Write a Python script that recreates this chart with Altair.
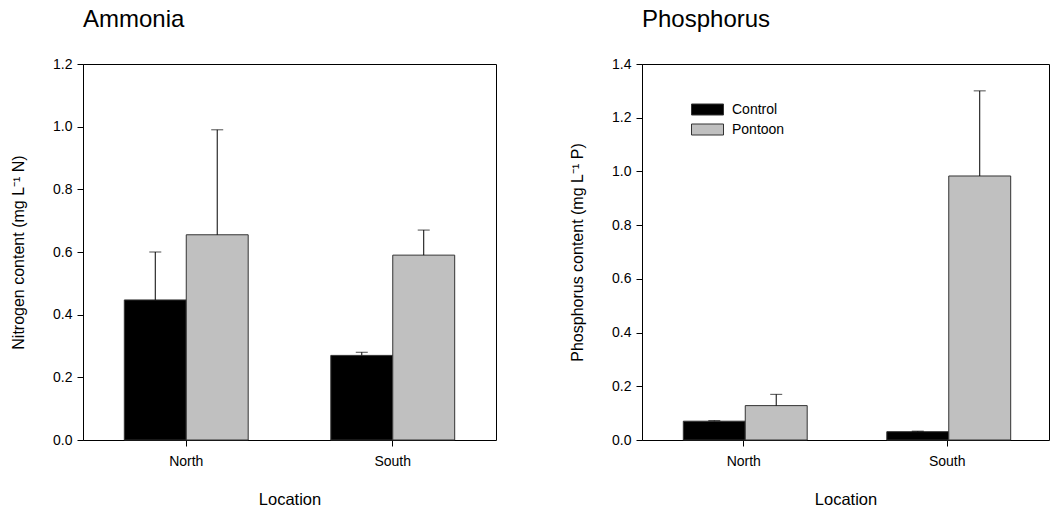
import altair as alt
import pandas as pd

locations = ["North", "South"]
treatments = ["Control", "Pontoon"]
bar_colors = ["#000000", "#c0c0c0"]

# Ammonia (mg L-1 N): means and upper standard errors
ammonia_control = [0.447, 0.270]
ammonia_control_se = [0.153, 0.010]
ammonia_pontoon = [0.655, 0.590]
ammonia_pontoon_se = [0.335, 0.080]

# Phosphorus (mg L-1 P)
phos_control = [0.070, 0.031]
phos_control_se = [0.002, 0.002]
phos_pontoon = [0.128, 0.983]
phos_pontoon_se = [0.042, 0.317]

ammonia_ticks = [0.0, 0.2, 0.4, 0.6, 0.8, 1.0, 1.2]
phos_ticks = [0.0, 0.2, 0.4, 0.6, 0.8, 1.0, 1.2, 1.4]

FONT = "Liberation Sans"


def make_frame(c_mean, c_se, p_mean, p_se):
    rows = []
    for i, loc in enumerate(locations):
        rows.append(dict(Location=loc, Treatment="Control", mean=c_mean[i],
                         upper=c_mean[i] + c_se[i]))
        rows.append(dict(Location=loc, Treatment="Pontoon", mean=p_mean[i],
                         upper=p_mean[i] + p_se[i]))
    return pd.DataFrame(rows)


def panel(df, title, ytitle, ticks, width, show_legend):
    x = alt.X("Location:N", sort=locations, title="Location",
              scale=alt.Scale(paddingInner=0, paddingOuter=0),
              axis=alt.Axis(labelAngle=0, tickSize=6, labelPadding=8,
                            domain=False, titlePadding=23, labelFontSize=14,
                            titleFontSize=16.5))
    xo = alt.XOffset("Treatment:N", sort=treatments,
                     scale=alt.Scale(paddingInner=0, paddingOuter=0.667))
    y_scale = alt.Scale(domain=[ticks[0], ticks[-1]], nice=False)
    y_axis = alt.Axis(values=ticks, format=".1f", tickSize=6, labelPadding=5,
                      labelFontSize=14, titleFontSize=16, titlePadding=26)
    if show_legend:
        legend = alt.Legend(title=None, orient="none", legendX=55, legendY=35,
                            symbolType="M-1.6,-0.55H1.6V0.55H-1.6Z",
                            symbolSize=400,
                            symbolStrokeColor="#333333", symbolStrokeWidth=1,
                            labelFontSize=14, labelOffset=14, rowPadding=2,
                            padding=0)
    else:
        legend = None
    color = alt.Color("Treatment:N", sort=treatments,
                      scale=alt.Scale(domain=treatments, range=bar_colors),
                      legend=legend)
    base = alt.Chart(df)
    bars = base.mark_bar(stroke="#333333", strokeWidth=1).encode(
        x=x, xOffset=xo,
        y=alt.Y("mean:Q", scale=y_scale, axis=y_axis, title=ytitle),
        color=color,
    )
    err = base.mark_rule(color="#000000", strokeWidth=1).encode(
        x=x, xOffset=xo, y=alt.Y("mean:Q", scale=y_scale), y2="upper:Q")
    cap = base.mark_tick(color="#000000", size=12, thickness=1,
                         orient="horizontal").encode(
        x=x, xOffset=xo, y=alt.Y("upper:Q", scale=y_scale))
    return alt.layer(bars, err, cap).properties(
        width=width, height=376,
        title=alt.TitleParams(title, anchor="start", frame="group", fontSize=24,
                              fontWeight="normal", offset=25, font=FONT),
    )


ammonia = make_frame(ammonia_control, ammonia_control_se,
                     ammonia_pontoon, ammonia_pontoon_se)
phos = make_frame(phos_control, phos_control_se, phos_pontoon, phos_pontoon_se)

left = panel(ammonia, "Ammonia", "Nitrogen content (mg L\u207b\u00b9 N)",
             ammonia_ticks, 413, False)
right = panel(phos, "Phosphorus", "Phosphorus content (mg L\u207b\u00b9 P)",
              phos_ticks, 407, True)

chart = alt.hconcat(left, right, spacing=72).resolve_legend(
    color="independent").resolve_scale(color="independent").properties(
    padding={"left": 10, "top": 7, "right": 0, "bottom": 0},
    background="white",
).configure_view(stroke="#000000", strokeWidth=1).configure_axis(
    domainColor="#000000", tickColor="#000000", labelColor="#000000",
    titleColor="#000000", labelFont=FONT, titleFont=FONT,
    titleFontWeight="normal", grid=False,
).configure_legend(labelFont=FONT, labelColor="#000000").configure_text(font=FONT)

chart.save("out.html", embed_options={"renderer": "svg", "actions": False})
